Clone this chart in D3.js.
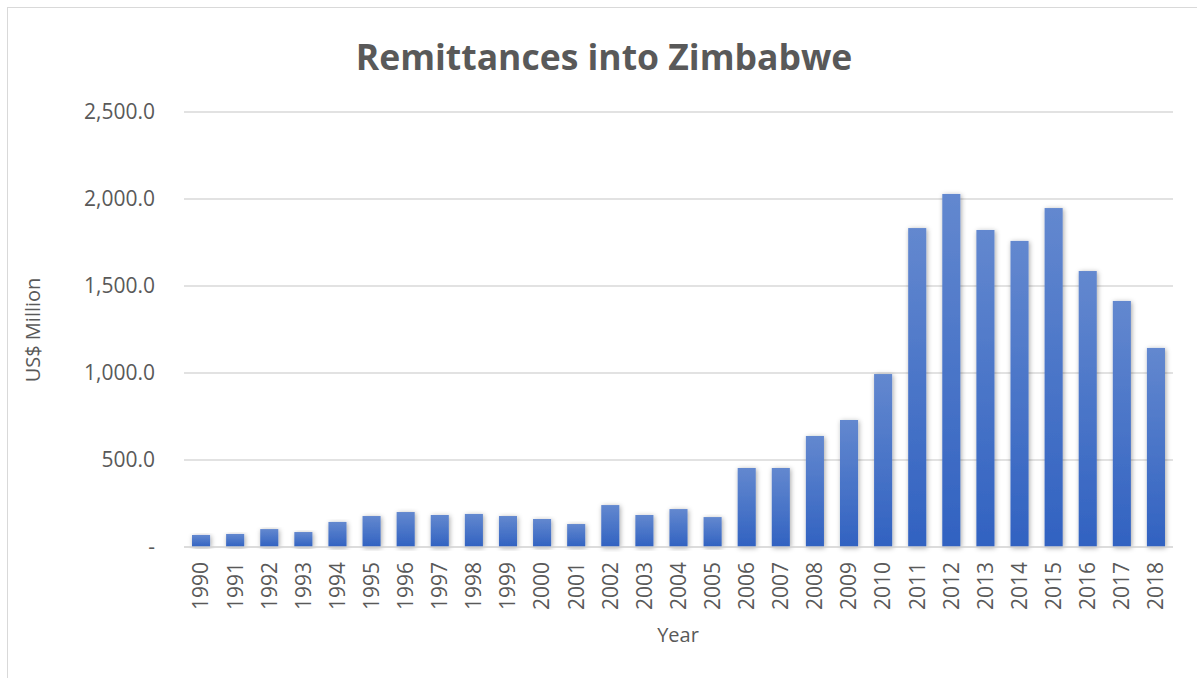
<!DOCTYPE html>
<html>
<head>
<meta charset="utf-8">
<script src="https://cdn.jsdelivr.net/npm/d3@7"></script>
<style>
  body { margin: 0; background: #fff; }
  text { font-family: "Open Sans", "Noto Sans", sans-serif; }
</style>
</head>
<body>
<svg id="chart"></svg>
<script>
const years = ['1990','1991','1992','1993','1994','1995','1996','1997','1998','1999',
  '2000','2001','2002','2003','2004','2005','2006','2007','2008','2009',
  '2010','2011','2012','2013','2014','2015','2016','2017','2018']
const remittances = [69, 75, 103, 86, 144, 178, 201, 184, 190, 178,
  161, 132, 241, 184, 218, 172, 454, 454, 638, 730,
  994, 1833, 2029, 1822, 1759, 1948, 1586, 1414, 1144]
const yTicks = [0, 500, 1000, 1500, 2000, 2500]

const width = 1197, height = 678
const margin = { top: 112, right: 24, bottom: 131, left: 184 }
const innerW = width - margin.left - margin.right
const innerH = height - margin.top - margin.bottom

const svg = d3.select('#chart')
  .attr('width', width)
  .attr('height', height)

svg.append('rect')
  .attr('x', 7.5).attr('y', 7.5)
  .attr('width', 1200).attr('height', 700)
  .attr('fill', 'none')
  .attr('stroke', '#d9d9d9')

const defs = svg.append('defs')
const grad = defs.append('linearGradient')
  .attr('id', 'barGrad')
  .attr('x1', 0).attr('y1', 0).attr('x2', 0).attr('y2', 1)
grad.append('stop').attr('offset', '0%').attr('stop-color', '#6388cf')
grad.append('stop').attr('offset', '100%').attr('stop-color', '#3162c1')

const shadow = defs.append('filter')
  .attr('id', 'shadow')
  .attr('x', '-50%').attr('y', '-10%').attr('width', '200%').attr('height', '120%')
shadow.append('feDropShadow')
  .attr('dx', 1).attr('dy', 1).attr('stdDeviation', 2.5)
  .attr('flood-color', '#000').attr('flood-opacity', 0.35)

const chart = svg.append('g')
  .attr('transform', `translate(${margin.left},${margin.top})`)

const x = d3.scaleBand()
  .domain(years)
  .range([0, innerW])
  .paddingInner(0.47)
  .paddingOuter(0.235)

const y = d3.scaleLinear()
  .domain([0, 2500])
  .range([innerH, 0])

// gridlines
chart.append('g')
  .selectAll('line')
  .data(yTicks.filter(d => d > 0))
  .join('line')
  .attr('x1', 0).attr('x2', innerW)
  .attr('y1', d => y(d)).attr('y2', d => y(d))
  .attr('stroke', '#d9d9d9')
  .attr('stroke-width', 1.3)

// y tick labels
const fmt = d3.format(',.1f')
chart.append('g')
  .selectAll('text')
  .data(yTicks)
  .join('text')
  .attr('x', -29)
  .attr('y', d => y(d))
  .attr('dy', '0.35em')
  .attr('text-anchor', 'end')
  .attr('fill', '#595959')
  .style('font-size', '21px')
  .text(d => d === 0 ? '-' : fmt(d))

// bars
chart.append('g')
  .selectAll('rect')
  .data(years)
  .join('rect')
  .attr('x', d => x(d))
  .attr('y', (d, i) => y(remittances[i]))
  .attr('width', x.bandwidth())
  .attr('height', (d, i) => innerH - y(remittances[i]))
  .attr('fill', 'url(#barGrad)')
  .attr('filter', 'url(#shadow)')

// baseline
chart.append('line')
  .attr('x1', 0).attr('x2', innerW)
  .attr('y1', innerH).attr('y2', innerH)
  .attr('stroke', '#d0d0d0')
  .attr('stroke-width', 1.5)

// x labels
chart.append('g')
  .selectAll('text')
  .data(years)
  .join('text')
  .attr('transform', d => `translate(${x(d) + x.bandwidth() / 2},${innerH + 15}) rotate(-90)`)
  .attr('dy', '0.35em')
  .attr('text-anchor', 'end')
  .attr('fill', '#595959')
  .style('font-size', '21px')
  .text(d => d)

// title
svg.append('text')
  .attr('x', 604)
  .attr('y', 70)
  .attr('text-anchor', 'middle')
  .attr('fill', '#595959')
  .style('font-size', '35.5px')
  .style('font-weight', 'bold')
  .text('Remittances into Zimbabwe')

// axis titles
svg.append('text')
  .attr('transform', 'translate(33,330) rotate(-90)')
  .attr('text-anchor', 'middle')
  .attr('dy', '0.35em')
  .attr('fill', '#595959')
  .style('font-size', '20px')
  .text('US$ Million')

svg.append('text')
  .attr('x', 678)
  .attr('y', 642)
  .attr('text-anchor', 'middle')
  .attr('fill', '#595959')
  .style('font-size', '20px')
  .text('Year')
</script>
</body>
</html>
